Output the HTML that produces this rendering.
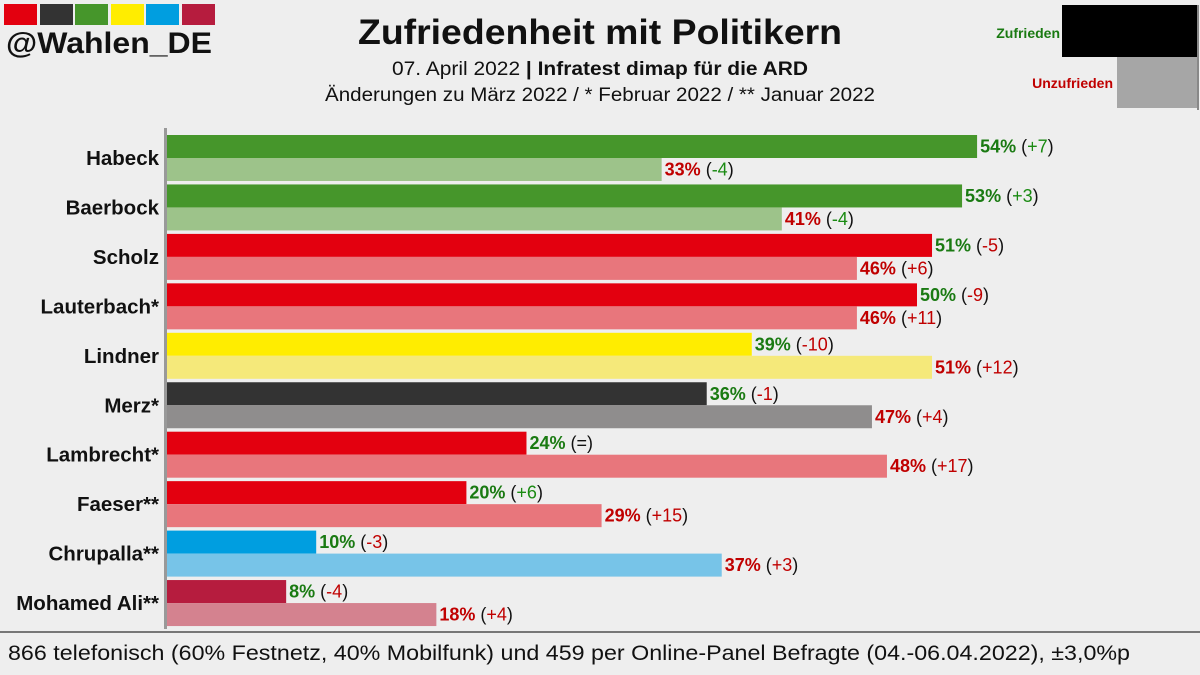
<!DOCTYPE html>
<html><head><meta charset="utf-8"><style>
body{margin:0;background:#eeeeee;}
svg{display:block;font-family:"Liberation Sans","DejaVu Sans",sans-serif;}
</style></head><body>
<svg id="c" width="1200" height="675" viewBox="0 0 1200 675" xmlns="http://www.w3.org/2000/svg">
<rect width="1200" height="675" fill="#eeeeee"/>
<g>
<rect x="4" y="4" width="33" height="21" fill="#e3000f"/>
<rect x="40" y="4" width="33" height="21" fill="#333"/>
<rect x="75" y="4" width="33" height="21" fill="#46962b"/>
<rect x="111" y="4" width="33" height="21" fill="#ffed00"/>
<rect x="146" y="4" width="33" height="21" fill="#009ee0"/>
<rect x="182" y="4" width="33" height="21" fill="#b61c3e"/>
<text x="6" y="53" font-size="30" font-weight="bold" fill="#111" textLength="206" lengthAdjust="spacingAndGlyphs">@Wahlen_DE</text>
</g>
<text x="600" y="44" text-anchor="middle" font-size="35" font-weight="bold" fill="#111" textLength="484" lengthAdjust="spacingAndGlyphs">Zufriedenheit mit Politikern</text>
<text x="600" y="75" text-anchor="middle" font-size="19" fill="#111" textLength="416" lengthAdjust="spacingAndGlyphs">07. April 2022 <tspan font-weight="bold">| Infratest dimap für die ARD</tspan></text>
<text x="600" y="101" text-anchor="middle" font-size="19" fill="#111" textLength="550" lengthAdjust="spacingAndGlyphs">Änderungen zu März 2022 / * Februar 2022 / ** Januar 2022</text>
<g>
<rect x="1062" y="5" width="135" height="52" fill="#000"/>
<rect x="1117" y="57" width="80" height="51" fill="#a6a6a6"/>
<rect x="1197" y="5" width="2" height="105" fill="#888"/>
<text x="1060" y="38" text-anchor="end" font-size="14" font-weight="bold" fill="#1a7a12">Zufrieden</text>
<text x="1113" y="88" text-anchor="end" font-size="14" font-weight="bold" fill="#c00000">Unzufrieden</text>
</g>
<g id="bars"></g>
<rect x="164" y="128" width="3" height="501" fill="#999"/>
<rect x="0" y="631" width="1200" height="2" fill="#777"/>
<text x="8" y="660" font-size="21" fill="#111" textLength="1122" lengthAdjust="spacingAndGlyphs">866 telefonisch (60% Festnetz, 40% Mobilfunk) und 459 per Online-Panel Befragte (04.-06.04.2022), ±3,0%p</text>
</svg>
<script>
const names=["Habeck","Baerbock","Scholz","Lauterbach*","Lindner","Merz*","Lambrecht*","Faeser**","Chrupalla**","Mohamed Ali**"];
const satisfied=[54,53,51,50,39,36,24,20,10,8];
const satChange=["+7","+3","-5","-9","-10","-1","=","+6","-3","-4"];
const dissatisfied=[33,41,46,46,51,47,48,29,37,18];
const disChange=["-4","-4","+6","+11","+12","+4","+17","+15","+3","+4"];
const darkColors=["#46962b","#46962b","#e3000f","#e3000f","#ffed00","#333333","#e3000f","#e3000f","#009ee0","#b61c3e"];
const lightColors=["#9dc38a","#9dc38a","#e8767c","#e8767c","#f5e97a","#8f8d8d","#e8767c","#e8767c","#77c4e8","#d4828f"];
const NS="http://www.w3.org/2000/svg";
const g=document.getElementById("bars");
const x0=166, pxPer=15.02, top0=135, pitch=49.45, bh=23;
const xs=v=>x0+v*pxPer;
function mk(t,a){const e=document.createElementNS(NS,t);for(const k in a)e.setAttribute(k,a[k]);return e;}
function chColor(c,good){if(c==="=")return "#111";const pos=c[0]==="+";return (pos===good)?"#1a8a12":"#c00000";}
function label(x,y,v,c,valColor,good,name){
  const t=mk("text",{x:x+3,y:y+bh/2+6,"font-size":"18",fill:"#111"});
  
  
  const a=mk("tspan",{"font-weight":"bold",fill:valColor});a.textContent=v+"%";
  const b=mk("tspan",{});b.textContent=" (";
  const d=mk("tspan",{fill:chColor(c,good)});d.textContent=c;
  const e=mk("tspan",{});e.textContent=")";
  t.append(a,b,d,e);g.appendChild(t);
}
names.forEach((n,i)=>{
  const y=top0+i*pitch;
  const r1=mk("rect",{x:x0,y:y,width:xs(satisfied[i])-x0,height:bh,fill:darkColors[i]});
  
  
  g.appendChild(r1);
  const r2=mk("rect",{x:x0,y:y+bh,width:xs(dissatisfied[i])-x0,height:bh,fill:lightColors[i]});
  
  
  g.appendChild(r2);
  label(xs(satisfied[i]),y,satisfied[i],satChange[i],"#1a7a12",true,'value-satisfied-'+i);
  label(xs(dissatisfied[i]),y+bh,dissatisfied[i],disChange[i],"#c00000",false,'value-dissatisfied-'+i);
  const t=mk("text",{x:159,y:y+bh+7,"text-anchor":"end","font-size":"20.5","font-weight":"bold",fill:"#111"});
  
  
  t.textContent=n;g.appendChild(t);
});
</script>
</body></html>
